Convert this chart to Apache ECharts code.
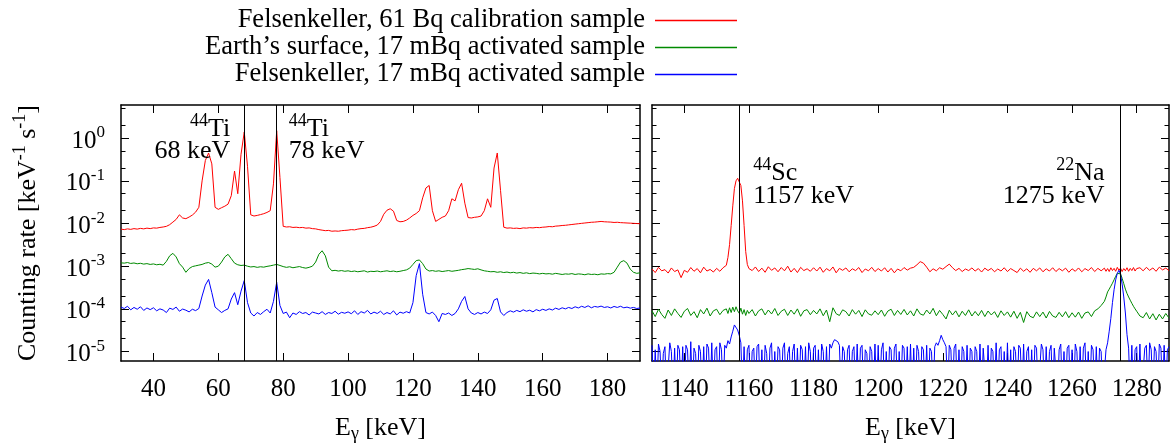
<!DOCTYPE html>
<html>
<head>
<meta charset="utf-8">
<script src="https://cdn.jsdelivr.net/npm/echarts@6.0.0/dist/echarts.min.js"></script>
<style>
html,body{margin:0;padding:0;background:#fff;}
#chart{width:1172px;height:448px;}
</style>
</head>
<body>
<div id="chart"></div>
<script>
// ---------------- DATA ----------------
const seriesNames = [
  'Felsenkeller, 61 Bq calibration sample',
  'Earth\u2019s surface, 17 mBq activated sample',
  'Felsenkeller, 17 mBq activated sample'
];
const seriesColors = ['#ff0000', '#008a00', '#0000ff'];

// tick values / labels
const xTicksLeft = [40, 60, 80, 100, 120, 140, 160, 180];
const xTicksRight = [1140, 1160, 1180, 1200, 1220, 1240, 1260, 1280];
const yMajorTicks = [1e-5, 1e-4, 1e-3, 1e-2, 1e-1, 1];
const yMajorExp = ['-5', '-4', '-3', '-2', '-1', '0'];
const yMinorTicks = [2e-5, 5e-5, 2e-4, 5e-4, 2e-3, 5e-3, 2e-2, 5e-2, 0.2, 0.5, 2, 5];

// marker lines (keV)
const leftMarkers = [68, 78];
const rightMarkers = [1157, 1275];

// ---- left panel (keV) ----
const leftE = [
  30,31,32,33,34,35,36,37,38,39,
  40,41,42,43,44,45,46,47,48,49,
  50,51,52,53,54,55,56,57,58,59,
  60,61,62,63,64,65,66,67,68,69,
  70,71,72,73,74,75,76,77,78,79,
  80,81,82,83,84,85,86,87,88,89,
  90,91,92,93,94,95,96,97,98,99,
  100,101,102,103,104,105,106,107,108,109,
  110,111,112,113,114,115,116,117,118,119,
  120,121,122,123,124,125,126,127,128,129,
  130,131,132,133,134,135,136,137,138,139,
  140,141,142,143,144,145,146,147,148,149,
  150,151,152,153,154,155,156,157,158,159,
  160,161,162,163,164,165,166,167,168,169,
  170,171,172,173,174,175,176,177,178,179,
  180,181,182,183,184,185,186,187,188,189,
  190
];
const leftRed = [
  0.0074,0.0072,0.0075,0.0073,0.0076,0.0074,0.0077,0.0075,0.0078,0.0076,
  0.0079,0.0078,0.0081,0.0083,0.0086,0.0094,0.0108,0.0125,0.0160,0.0135,
  0.0130,0.0142,0.0158,0.0185,0.0240,0.100,0.30,0.45,0.25,0.024,
  0.0215,0.0235,0.0255,0.0285,0.045,0.17,0.050,0.42,1.40,0.22,
  0.0160,0.0150,0.0155,0.0162,0.0170,0.0182,0.0200,0.085,1.50,0.12,
  0.0086,0.0083,0.0084,0.0081,0.0082,0.0080,0.0081,0.0078,0.0079,0.0076,
  0.0075,0.0072,0.0070,0.0068,0.0069,0.0066,0.0067,0.0066,0.0068,0.0069,
  0.0070,0.0072,0.0071,0.0074,0.0076,0.0077,0.0080,0.0082,0.0086,0.0092,
  0.0112,0.0165,0.0205,0.0222,0.0195,0.0118,0.0110,0.0112,0.0120,0.0135,
  0.0155,0.0172,0.0200,0.040,0.068,0.078,0.020,0.0112,0.0125,0.0140,
  0.0150,0.0200,0.038,0.034,0.062,0.088,0.030,0.0138,0.0135,0.0140,
  0.0143,0.0150,0.0200,0.038,0.024,0.20,0.45,0.060,0.0082,0.0078,
  0.0079,0.0077,0.0078,0.0076,0.0079,0.0078,0.0080,0.0079,0.0081,0.0080,
  0.0082,0.0083,0.0085,0.0084,0.0087,0.0088,0.0090,0.0091,0.0093,0.0095,
  0.0097,0.0099,0.0101,0.0103,0.0105,0.0107,0.0108,0.0110,0.0112,0.0110,
  0.0109,0.0108,0.0106,0.0107,0.0105,0.0104,0.0103,0.0102,0.0101,0.0100,
  0.0099
];
const leftGreen = [
  0.00120,0.00118,0.00122,0.00116,0.00119,0.00114,0.00117,0.00112,0.00115,0.00110,
  0.00113,0.00108,0.00111,0.00106,0.00130,0.00175,0.00200,0.00165,0.00115,0.00095,
  0.00072,0.00088,0.00098,0.00102,0.00106,0.00110,0.00118,0.00122,0.00112,0.00095,
  0.00100,0.00125,0.00165,0.00190,0.00150,0.00118,0.00108,0.00104,0.00106,0.00100,
  0.00096,0.00098,0.00094,0.00097,0.00095,0.00099,0.00102,0.00106,0.00110,0.00104,
  0.00098,0.00094,0.00097,0.00092,0.00095,0.00098,0.00093,0.00090,0.00094,0.00100,
  0.00125,0.00190,0.00230,0.00175,0.00095,0.00078,0.00080,0.00077,0.00079,0.00076,
  0.00078,0.00075,0.00077,0.00074,0.00076,0.00078,0.00073,0.00076,0.00075,0.00077,
  0.00074,0.00076,0.00078,0.00075,0.00077,0.00074,0.00076,0.00079,0.00082,0.00090,
  0.00110,0.00135,0.00140,0.00115,0.00086,0.00077,0.00079,0.00076,0.00078,0.00075,
  0.00077,0.00079,0.00076,0.00078,0.00080,0.00083,0.00085,0.00088,0.00086,0.00084,
  0.00087,0.00082,0.00078,0.00076,0.00074,0.00075,0.00072,0.00074,0.00071,0.00073,
  0.00070,0.00072,0.00069,0.00071,0.00068,0.00070,0.00067,0.00069,0.00068,0.00066,
  0.00068,0.00066,0.00067,0.00065,0.00068,0.00066,0.00064,0.00066,0.00065,0.00067,
  0.00064,0.00066,0.00065,0.00063,0.00066,0.00064,0.00065,0.00063,0.00066,0.00065,
  0.00067,0.00066,0.00072,0.00095,0.00125,0.00135,0.00118,0.00085,0.00072,0.00068,
  0.00070
];
const leftBlue = [
  1.10e-4,1.02e-4,1.15e-4,0.95e-4,1.08e-4,0.98e-4,1.12e-4,0.92e-4,1.05e-4,0.96e-4,
  1.06e-4,0.90e-4,1.00e-4,0.94e-4,0.82e-4,1.04e-4,0.97e-4,1.10e-4,0.88e-4,0.99e-4,
  0.93e-4,0.85e-4,0.98e-4,0.91e-4,1.02e-4,2.0e-4,3.6e-4,4.9e-4,2.4e-4,1.10e-4,
  0.95e-4,0.82e-4,0.92e-4,1.0e-4,1.7e-4,2.4e-4,1.25e-4,2.6e-4,4.6e-4,1.4e-4,
  0.80e-4,0.68e-4,0.82e-4,0.74e-4,0.86e-4,0.98e-4,0.80e-4,1.5e-4,4.2e-4,1.2e-4,
  0.78e-4,0.84e-4,0.62e-4,0.80e-4,0.74e-4,0.86e-4,0.78e-4,0.82e-4,0.72e-4,0.84e-4,
  0.80e-4,0.76e-4,0.86e-4,0.74e-4,0.82e-4,0.78e-4,0.88e-4,0.75e-4,0.83e-4,0.79e-4,
  0.85e-4,0.77e-4,0.90e-4,0.74e-4,0.86e-4,0.80e-4,0.92e-4,0.76e-4,0.84e-4,0.78e-4,
  0.88e-4,0.74e-4,0.82e-4,0.76e-4,0.90e-4,0.72e-4,0.84e-4,0.79e-4,0.86e-4,0.80e-4,
  1.4e-4,6.0e-4,1.15e-3,2.2e-4,0.82e-4,0.76e-4,0.84e-4,0.70e-4,0.50e-4,0.78e-4,
  0.74e-4,0.80e-4,0.70e-4,0.78e-4,1.0e-4,1.5e-4,1.95e-4,1.0e-4,0.80e-4,0.74e-4,
  0.82e-4,0.76e-4,0.84e-4,0.78e-4,0.95e-4,1.6e-4,1.75e-4,0.85e-4,0.70e-4,0.82e-4,
  0.90e-4,0.84e-4,0.92e-4,0.86e-4,0.95e-4,0.88e-4,0.93e-4,0.85e-4,0.96e-4,0.90e-4,
  0.98e-4,0.92e-4,1.0e-4,0.94e-4,1.04e-4,0.97e-4,1.06e-4,1.0e-4,1.08e-4,1.02e-4,
  1.12e-4,1.05e-4,1.15e-4,1.08e-4,1.18e-4,1.06e-4,1.14e-4,1.10e-4,1.16e-4,1.08e-4,
  1.12e-4,1.05e-4,1.14e-4,1.08e-4,1.15e-4,1.06e-4,1.10e-4,1.04e-4,1.08e-4,1.02e-4,
  1.05e-4
];

// ---- right panel (keV) ----
const rightE = [
  1130,1131,1132,1133,1134,1135,1136,1137,1138,1139,
  1140,1141,1142,1143,1144,1145,1146,1147,1148,1149,
  1150,1151,1152,
  1153,1153.5,1154,1154.5,1155,1155.5,1156,1156.5,1157,1157.5,1158,1158.5,1159,1159.5,
  1160,1161,1162,1163,1164,1165,1166,1167,1168,1169,
  1170,1171,1172,1173,1174,1175,1176,1177,1178,1179,
  1180,1181,1182,1183,1184,1185,1186,1187,1188,1189,
  1190,1191,1192,1193,1194,1195,1196,1197,1198,1199,
  1200,1201,1202,1203,1204,1205,1206,1207,1208,1209,
  1210,1211,1212,1213,1214,1215,1216,1217,1218,1219,
  1220,1221,1222,1223,1224,1225,1226,1227,1228,1229,
  1230,1231,1232,1233,1234,1235,1236,1237,1238,1239,
  1240,1241,1242,1243,1244,1245,1246,1247,1248,1249,
  1250,1251,1252,1253,1254,1255,1256,1257,1258,1259,
  1260,1261,1262,1263,1264,1265,1266,1267,1268,1269,
  1270,1270.5,1271,1271.5,1272,1272.5,1273,1273.5,1274,1274.5,
  1275,1275.5,1276,1276.5,1277,1277.5,1278,1278.5,1279,1279.5,
  1280,1281,1282,1283,1284,1285,1286,1287,1288,1289,1290
];
const rightRed = [
  8.6e-4,7.1e-4,9.4e-4,7.8e-4,8.3e-4,6.9e-4,9.1e-4,7.5e-4,8.2e-4,5.4e-4,
  8.0e-4,7.2e-4,9.3e-4,7.6e-4,8.8e-4,7.0e-4,9.5e-4,7.7e-4,8.4e-4,7.3e-4,
  8.9e-4,7.6e-4,9.2e-4,
  1.05e-3,1.6e-3,3.2e-3,9.0e-3,0.026,0.066,0.100,0.115,0.104,0.078,0.034,0.009,2.2e-3,1.1e-3,
  8.8e-4,7.9e-4,9.6e-4,7.5e-4,9.0e-4,7.2e-4,9.7e-4,8.0e-4,9.1e-4,7.4e-4,
  9.3e-4,7.8e-4,1.0e-3,7.3e-4,8.9e-4,7.1e-4,9.4e-4,7.9e-4,8.7e-4,7.6e-4,
  9.2e-4,7.7e-4,9.5e-4,7.2e-4,8.8e-4,7.8e-4,9.6e-4,7.0e-4,8.9e-4,8.0e-4,
  9.1e-4,7.4e-4,8.7e-4,7.9e-4,9.3e-4,7.1e-4,8.6e-4,7.8e-4,9.4e-4,7.5e-4,
  8.8e-4,7.7e-4,9.2e-4,7.3e-4,8.9e-4,7.0e-4,8.6e-4,7.8e-4,9.3e-4,8.1e-4,
  9.0e-4,9.4e-4,1.08e-3,1.28e-3,1.18e-3,9.5e-4,7.4e-4,8.7e-4,7.8e-4,9.2e-4,
  8.5e-4,9.8e-4,1.12e-3,9.2e-4,7.9e-4,8.9e-4,7.5e-4,8.6e-4,7.9e-4,9.1e-4,
  7.7e-4,8.8e-4,7.3e-4,9.0e-4,7.9e-4,8.9e-4,7.4e-4,8.6e-4,7.7e-4,9.2e-4,
  7.5e-4,8.8e-4,7.9e-4,7.1e-4,9.0e-4,7.6e-4,8.7e-4,7.2e-4,8.9e-4,7.8e-4,
  9.1e-4,7.4e-4,8.7e-4,7.7e-4,9.2e-4,7.5e-4,8.8e-4,7.8e-4,9.0e-4,7.2e-4,
  8.7e-4,7.6e-4,9.1e-4,7.4e-4,8.8e-4,7.9e-4,9.3e-4,7.5e-4,8.9e-4,7.8e-4,
  9.0e-4,7.6e-4,8.8e-4,7.5e-4,9.2e-4,7.9e-4,8.9e-4,7.6e-4,9.4e-4,8.0e-4,
  9.0e-4,7.5e-4,8.8e-4,7.8e-4,9.2e-4,7.6e-4,8.9e-4,7.9e-4,9.3e-4,7.7e-4,
  8.8e-4,9.2e-4,7.8e-4,9.4e-4,8.0e-4,9.1e-4,7.6e-4,9.5e-4,8.2e-4,9.0e-4,7.9e-4
];
const rightGreen = [
  9.0e-5,6.6e-5,9.8e-5,7.4e-5,6.0e-5,9.4e-5,7.0e-5,1.0e-4,7.8e-5,6.3e-5,
  8.8e-5,1.02e-4,7.0e-5,8.6e-5,6.2e-5,9.6e-5,7.6e-5,1.04e-4,6.8e-5,9.0e-5,
  9.8e-5,7.3e-5,9.2e-5,
  1.0e-4,7.8e-5,1.06e-4,8.2e-5,1.1e-4,8.6e-5,1.12e-4,9.0e-5,7.9e-5,1.04e-4,7.5e-5,9.6e-5,7.0e-5,9.2e-5,
  7.8e-5,9.6e-5,6.8e-5,9.0e-5,1.0e-4,7.2e-5,9.4e-5,7.6e-5,1.02e-4,7.0e-5,
  8.8e-5,9.8e-5,7.0e-5,9.4e-5,7.5e-5,1.0e-4,6.7e-5,9.0e-5,9.6e-5,7.3e-5,
  9.2e-5,7.6e-5,1.0e-4,6.9e-5,9.4e-5,5.0e-5,1.06e-4,7.7e-5,7.0e-5,9.5e-5,
  8.6e-5,6.8e-5,9.6e-5,7.5e-5,9.2e-5,6.6e-5,9.5e-5,7.6e-5,7.1e-5,9.0e-5,
  7.3e-5,9.4e-5,6.7e-5,8.9e-5,9.8e-5,7.0e-5,9.2e-5,7.4e-5,9.7e-5,7.2e-5,
  9.0e-5,6.8e-5,1.0e-4,7.6e-5,7.1e-5,9.4e-5,7.6e-5,1.03e-4,6.9e-5,9.2e-5,
  7.4e-5,5.8e-5,9.3e-5,7.2e-5,9.0e-5,6.5e-5,8.8e-5,7.0e-5,9.5e-5,6.8e-5,
  8.7e-5,6.9e-5,9.2e-5,6.6e-5,8.9e-5,7.2e-5,8.6e-5,6.3e-5,9.0e-5,7.0e-5,
  8.5e-5,6.4e-5,8.8e-5,6.0e-5,8.3e-5,4.8e-5,8.6e-5,6.7e-5,6.2e-5,8.5e-5,
  6.6e-5,8.4e-5,6.1e-5,8.7e-5,6.8e-5,6.3e-5,8.3e-5,6.5e-5,8.6e-5,6.2e-5,
  8.1e-5,6.4e-5,8.4e-5,6.0e-5,8.0e-5,8.5e-5,6.6e-5,9.0e-5,1.0e-4,1.2e-4,
  1.5e-4,1.9e-4,2.5e-4,2.9e-4,3.4e-4,4.0e-4,4.8e-4,5.8e-4,6.8e-4,7.4e-4,
  6.6e-4,5.2e-4,3.9e-4,2.9e-4,2.3e-4,1.9e-4,1.6e-4,1.35e-4,1.15e-4,1.0e-4,
  8.8e-5,6.8e-5,6.2e-5,8.2e-5,5.8e-5,7.7e-5,5.5e-5,7.5e-5,5.8e-5,7.8e-5,6.1e-5
];
// blue (Felsenkeller activated) right panel: finer 0.5 keV bins
const rightBlueE = [
  1130,1130.5,1131,1131.5,1132,1132.5,1133,1133.5,1134,1134.5,1135,1135.5,1136,1136.5,1137,1137.5,1138,1138.5,1139,1139.5,
  1140,1140.5,1141,1141.5,1142,1142.5,1143,1143.5,1144,1144.5,1145,1145.5,1146,1146.5,1147,1147.5,1148,1148.5,1149,1149.5,
  1150,1150.5,1151,1151.5,1152,1152.5,1153,1153.5,1154,1154.5,1155,1155.5,1156,1156.5,1157,1157.5,1158,1158.5,1159,1159.5,
  1160,1160.5,1161,1161.5,1162,1162.5,1163,1163.5,1164,1164.5,1165,1165.5,1166,1166.5,1167,1167.5,1168,1168.5,1169,1169.5,
  1170,1170.5,1171,1171.5,1172,1172.5,1173,1173.5,1174,1174.5,1175,1175.5,1176,1176.5,1177,1177.5,1178,1178.5,1179,1179.5,
  1180,1180.5,1181,1181.5,1182,1182.5,1183,1183.5,1184,1184.5,1185,1185.5,1186,1186.5,1187,1187.5,1188,1188.5,1189,1189.5,
  1190,1190.5,1191,1191.5,1192,1192.5,1193,1193.5,1194,1194.5,1195,1195.5,1196,1196.5,1197,1197.5,1198,1198.5,1199,1199.5,
  1200,1200.5,1201,1201.5,1202,1202.5,1203,1203.5,1204,1204.5,1205,1205.5,1206,1206.5,1207,1207.5,1208,1208.5,1209,1209.5,
  1210,1210.5,1211,1211.5,1212,1212.5,1213,1213.5,1214,1214.5,1215,1215.5,1216,1216.5,1217,1217.5,1218,1218.5,1219,1219.5,
  1220,1220.5,1221,1221.5,1222,1222.5,1223,1223.5,1224,1224.5,1225,1225.5,1226,1226.5,1227,1227.5,1228,1228.5,1229,1229.5,
  1230,1230.5,1231,1231.5,1232,1232.5,1233,1233.5,1234,1234.5,1235,1235.5,1236,1236.5,1237,1237.5,1238,1238.5,1239,1239.5,
  1240,1240.5,1241,1241.5,1242,1242.5,1243,1243.5,1244,1244.5,1245,1245.5,1246,1246.5,1247,1247.5,1248,1248.5,1249,1249.5,
  1250,1250.5,1251,1251.5,1252,1252.5,1253,1253.5,1254,1254.5,1255,1255.5,1256,1256.5,1257,1257.5,1258,1258.5,1259,1259.5,
  1260,1260.5,1261,1261.5,1262,1262.5,1263,1263.5,1264,1264.5,1265,1265.5,1266,1266.5,1267,1267.5,1268,1268.5,1269,1269.5,
  1270,1270.5,1271,1271.5,1272,1272.5,1273,1273.5,1274,1274.5,1275,1275.5,1276,1276.5,1277,1277.5,1278,1278.5,1279,1279.5,
  1280,1280.5,1281,1281.5,1282,1282.5,1283,1283.5,1284,1284.5,1285,1285.5,1286,1286.5,1287,1287.5,1288,1288.5,1289,1289.5,
  1290
];
const Z = 1e-6; // empty bin (below the axis floor, clipped)
const rightBlue = [
  1.4e-5,Z,1.1e-5,Z,1.5e-5,1.0e-5,Z,9e-6,1.3e-5,Z,Z,1.6e-5,1.0e-5,Z,1.2e-5,Z,1.4e-5,1.1e-5,Z,1.3e-5,
  Z,1.4e-5,1.1e-5,Z,1.7e-5,Z,1.2e-5,9e-6,Z,1.4e-5,1.0e-5,Z,1.3e-5,Z,1.5e-5,1.2e-5,Z,1.6e-5,Z,1.1e-5,
  1.3e-5,Z,1.6e-5,1.1e-5,Z,1.4e-5,1.2e-5,1.8e-5,1.5e-5,2.2e-5,3.0e-5,4.2e-5,4.0e-5,3.2e-5,2.4e-5,1.6e-5,Z,1.3e-5,Z,1.1e-5,
  1.4e-5,Z,1.0e-5,1.2e-5,Z,1.3e-5,1.5e-5,Z,1.1e-5,Z,1.4e-5,9e-6,Z,1.2e-5,1.6e-5,Z,1.0e-5,Z,1.3e-5,1.1e-5,
  Z,1.2e-5,1.6e-5,Z,9e-6,1.3e-5,Z,1.0e-5,1.5e-5,Z,1.2e-5,Z,1.4e-5,1.1e-5,Z,1.3e-5,Z,1.6e-5,1.0e-5,Z,
  1.2e-5,1.4e-5,Z,1.1e-5,Z,1.5e-5,1.0e-5,Z,1.3e-5,Z,1.5e-5,1.2e-5,1.6e-5,1.9e-5,2.1e-5,1.7e-5,1.4e-5,Z,1.3e-5,1.0e-5,
  Z,1.1e-5,1.4e-5,Z,1.0e-5,1.3e-5,Z,1.5e-5,Z,1.2e-5,1.4e-5,Z,1.1e-5,9e-6,Z,1.3e-5,1.0e-5,Z,1.5e-5,Z,
  1.4e-5,Z,1.1e-5,1.6e-5,Z,1.0e-5,Z,1.3e-5,1.1e-5,Z,1.2e-5,1.5e-5,Z,1.0e-5,Z,1.4e-5,1.2e-5,Z,1.3e-5,Z,
  1.5e-5,Z,1.2e-5,Z,1.4e-5,1.0e-5,Z,1.3e-5,1.1e-5,Z,1.4e-5,Z,1.2e-5,1.0e-5,Z,1.3e-5,1.6e-5,1.4e-5,1.8e-5,2.4e-5,
  1.9e-5,1.6e-5,1.3e-5,Z,1.4e-5,1.1e-5,Z,1.2e-5,1.5e-5,Z,1.1e-5,Z,1.3e-5,1.0e-5,Z,1.4e-5,Z,1.2e-5,1.0e-5,Z,
  1.3e-5,1.0e-5,Z,1.5e-5,Z,1.2e-5,1.1e-5,Z,1.4e-5,Z,1.2e-5,1.0e-5,Z,1.6e-5,Z,1.1e-5,1.3e-5,Z,1.0e-5,Z,
  1.6e-5,Z,1.1e-5,Z,1.3e-5,1.0e-5,Z,1.4e-5,1.2e-5,Z,1.5e-5,Z,1.0e-5,1.3e-5,Z,1.1e-5,Z,1.4e-5,1.2e-5,Z,
  Z,1.5e-5,1.1e-5,Z,1.3e-5,Z,1.0e-5,1.4e-5,Z,1.2e-5,1.3e-5,Z,1.1e-5,1.5e-5,Z,1.0e-5,Z,1.2e-5,1.4e-5,Z,
  1.1e-5,Z,1.5e-5,1.0e-5,Z,1.3e-5,Z,1.2e-5,1.6e-5,Z,1.0e-5,Z,1.4e-5,1.1e-5,Z,1.3e-5,Z,1.2e-5,1.0e-5,Z,
  Z,1.1e-5,1.6e-5,3.0e-5,6.0e-5,1.4e-4,2.8e-4,4.8e-4,6.8e-4,8.0e-4,6.5e-4,3.8e-4,1.9e-4,8.0e-5,2.5e-5,1.2e-5,Z,1.4e-5,Z,1.1e-5,
  1.3e-5,Z,1.5e-5,Z,Z,1.2e-5,1.4e-5,Z,1.6e-5,1.1e-5,Z,1.3e-5,1.0e-5,Z,1.5e-5,1.2e-5,Z,1.4e-5,Z,1.1e-5,
  1.3e-5
];

// ---------------- CHART ----------------
[leftRed, leftGreen, leftBlue].forEach((a, i) => { if (a.length !== leftE.length) throw new Error('left len ' + i + ': ' + a.length); });
[rightRed, rightGreen].forEach((a, i) => { if (a.length !== rightE.length) throw new Error('right len ' + i + ': ' + a.length); });
if (rightBlue.length !== rightBlueE.length) throw new Error('right blue len ' + rightBlue.length + ' vs ' + rightBlueE.length);

const FONT = "Liberation Serif";
const pairs = (E, V) => E.map((e, i) => [e, V[i]]);
const Y_MIN = 6e-6, Y_MAX = 6;

const chart = echarts.init(document.getElementById('chart'), null, { renderer: 'canvas' });

const RICH_LABEL = {
  b: { fontSize: 25, fontFamily: FONT, color: '#000', lineHeight: 34 },
  s: { fontSize: 17, fontFamily: FONT, color: '#000', lineHeight: 17, verticalAlign: 'top' },
  t: { fontSize: 25, fontFamily: FONT, color: '#000', lineHeight: 26 }
};
const RICH_TEXT = {
  b: { fontSize: 26, fontFamily: FONT, color: '#000', lineHeight: 34 },
  s: { fontSize: 18, fontFamily: FONT, color: '#000', lineHeight: 18, verticalAlign: 'top' },
  sub: { fontSize: 18, fontFamily: FONT, color: '#000', lineHeight: 20, verticalAlign: 'bottom' },
  bx: { fontSize: 26, fontFamily: FONT, color: '#000', lineHeight: 30 }
};

const axisLineStyle = { show: true, onZero: false, lineStyle: { color: '#000', width: 1.5 } };

function xAxisDef(grid, min, max, pos, ticks, withLabels) {
  return {
    type: 'value', gridIndex: grid, position: pos, min: min, max: max,
    axisLine: axisLineStyle,
    axisTick: { show: true, inside: true, length: 8, lineStyle: { color: '#000', width: 1 }, customValues: ticks },
    axisLabel: withLabels ? {
      show: true, customValues: ticks, margin: 15,
      formatter: function (v) { return '{t|' + String(v) + '}'; },
      rich: RICH_LABEL
    } : { show: false },
    splitLine: { show: false },
    name: withLabels ? '{bx|E}{sub|\u03b3}{bx| [keV]}' : '',
    nameLocation: 'middle', nameGap: 52,
    nameTextStyle: { rich: RICH_TEXT }
  };
}
function yAxisDef(grid, pos, major, withLabels, withName) {
  const ticks = major ? yMajorTicks : yMinorTicks;
  return {
    type: 'log', logBase: 10, gridIndex: grid, position: pos, min: Y_MIN, max: Y_MAX,
    axisLine: major ? axisLineStyle : { show: false, onZero: false },
    axisTick: { show: true, inside: true, length: major ? 8 : 4.5, lineStyle: { color: '#000', width: 1 }, customValues: ticks },
    axisLabel: withLabels ? {
      show: true, customValues: yMajorTicks, margin: 16, padding: [6, 0, 0, 0],
      formatter: function (v) {
        let k = 0, best = Infinity;
        yMajorTicks.forEach((t, i) => { const d = Math.abs(Math.log10(t) - Math.log10(v)); if (d < best) { best = d; k = i; } });
        return '{b|10}{s|' + yMajorExp[k] + '}';
      },
      rich: RICH_LABEL
    } : { show: false },
    splitLine: { show: false },
    minorTick: { show: false },
    name: withName ? '{b|Counting rate [keV}{s|-1}{b| s}{s|-1}{b|]}' : '',
    nameLocation: 'middle', nameGap: 76, nameRotate: 90,
    nameTextStyle: { rich: RICH_TEXT }
  };
}

function lineSeries(name, color, xi, yi, data, extra) {
  return Object.assign({
    name: name, type: 'line', xAxisIndex: xi, yAxisIndex: yi,
    data: data, showSymbol: false, symbol: 'none', clip: true,
    lineStyle: { color: color, width: 1 }, itemStyle: { color: color },
    emphasis: { disabled: true }, silent: true, animation: false
  }, extra || {});
}
function markerLines(list) {
  return {
    silent: true, symbol: 'none', animation: false,
    label: { show: false },
    lineStyle: { color: '#000', width: 1, type: 'solid' },
    data: list.map(v => ({ xAxis: v }))
  };
}

const legendTops = [7, 34, 61];
const option = {
  backgroundColor: '#fff',
  animation: false,
  textStyle: { fontFamily: FONT },
  grid: [
    { left: 121, top: 105, width: 519, height: 262 },
    { left: 652, top: 105, width: 517, height: 262 }
  ],
  legend: seriesNames.map((n, i) => ({
    data: [n], orient: 'vertical', right: 435, top: legendTops[i],
    align: 'right', icon: 'rect', itemWidth: 82, itemHeight: 1.5,
    selectedMode: false, padding: 0,
    textStyle: { fontFamily: FONT, fontSize: 26.5, color: '#000', padding: [0, 5, 0, 0] }
  })),
  xAxis: [
    xAxisDef(0, 30, 190, 'bottom', xTicksLeft, true),
    xAxisDef(0, 30, 190, 'top', xTicksLeft, false),
    xAxisDef(1, 1130, 1290, 'bottom', xTicksRight, true),
    xAxisDef(1, 1130, 1290, 'top', xTicksRight, false)
  ],
  yAxis: [
    yAxisDef(0, 'left', true, true, true),
    yAxisDef(0, 'right', true, false, false),
    yAxisDef(0, 'left', false, false, false),
    yAxisDef(0, 'right', false, false, false),
    yAxisDef(1, 'left', true, false, false),
    yAxisDef(1, 'right', true, false, false),
    yAxisDef(1, 'left', false, false, false),
    yAxisDef(1, 'right', false, false, false)
  ],
  series: [
    lineSeries(seriesNames[0], seriesColors[0], 0, 0, pairs(leftE, leftRed), { markLine: markerLines(leftMarkers) }),
    lineSeries(seriesNames[1], seriesColors[1], 0, 0, pairs(leftE, leftGreen)),
    lineSeries(seriesNames[2], seriesColors[2], 0, 0, pairs(leftE, leftBlue)),
    lineSeries(seriesNames[0], seriesColors[0], 2, 4, pairs(rightE, rightRed), { markLine: markerLines(rightMarkers) }),
    lineSeries(seriesNames[1], seriesColors[1], 2, 4, pairs(rightE, rightGreen)),
    lineSeries(seriesNames[2], seriesColors[2], 2, 4, pairs(rightBlueE, rightBlue))
  ]
};
chart.setOption(option);

// annotations anchored to the marker energies
const pxL = v => chart.convertToPixel({ xAxisIndex: 0 }, v);
const pxR = v => chart.convertToPixel({ xAxisIndex: 2 }, v);
function txt(x, y, text, align) {
  return { type: 'text', x: x, y: y, silent: true, z: 100,
    style: { text: text, align: align, verticalAlign: 'middle', rich: RICH_TEXT, fill: '#000' } };
}
chart.setOption({
  graphic: [
    txt(pxL(leftMarkers[0]) - 14, 129, '{s|44}{b|Ti}', 'right'),
    txt(pxL(leftMarkers[0]) - 14, 151, '{b|68 keV}', 'right'),
    txt(pxL(leftMarkers[1]) + 12, 129, '{s|44}{b|Ti}', 'left'),
    txt(pxL(leftMarkers[1]) + 12, 151, '{b|78 keV}', 'left'),
    txt(pxR(rightMarkers[0]) + 14, 173, '{s|44}{b|Sc}', 'left'),
    txt(pxR(rightMarkers[0]) + 14, 196, '{b|1157 keV}', 'left'),
    txt(pxR(rightMarkers[1]) - 16, 173, '{s|22}{b|Na}', 'right'),
    txt(pxR(rightMarkers[1]) - 16, 196, '{b|1275 keV}', 'right')
  ]
});
</script>
</body>
</html>
